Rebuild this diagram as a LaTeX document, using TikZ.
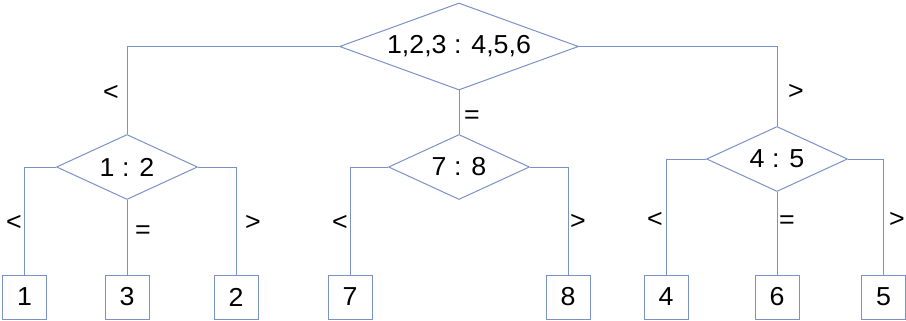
\documentclass[tikz,border=0pt]{standalone}
\usepackage{fontspec}
\setmainfont{Liberation Sans}[FakeStretch=1.03]
\usetikzlibrary{shapes.geometric}
\definecolor{edge}{RGB}{122,146,200}
\tikzset{
  every node/.style={font=\fontsize{26}{30}\selectfont, text=black},
  bigdia/.style={diamond, draw=edge, line width=1pt, inner sep=0pt, aspect=2.75, minimum width=239pt, minimum height=87pt},
  dia/.style={diamond, draw=edge, line width=1pt, inner sep=0pt, aspect=2.17, minimum width=141pt, minimum height=65pt},
  leaf/.style={rectangle, draw=edge, line width=1pt, inner sep=0pt, minimum width=44pt, minimum height=44pt},
  lbl/.style={inner sep=0pt},
  conn/.style={draw=edge, line width=1pt}
}
\begin{document}
\begin{tikzpicture}[x=1pt,y=-1pt]
\useasboundingbox (0,0) rectangle (906,321);
% decision nodes
\node[bigdia] (T) at (459,46.5) {1,2,3 : 4,5,6};
\node[dia] (L) at (127,167) {1 : 2};
\node[dia] (M) at (459,167) {7 : 8};
\node[dia] (R) at (777,159) {4 : 5};
% leaves
\node[leaf] (b1) at (24.5,297) {1};
\node[leaf] (b3) at (127,297) {3};
\node[leaf] (b2) at (236,297) {2};
\node[leaf] (b7) at (350,297) {7};
\node[leaf] (b8) at (568,297) {8};
\node[leaf] (b4) at (666,297) {4};
\node[leaf] (b6) at (777,297) {6};
\node[leaf] (b5) at (883.5,297) {5};
% connectors
\draw[conn] (T.west) -| (L.north);
\draw[conn] (T.south) -- (M.north);
\draw[conn] (T.east) -| (R.north);
\draw[conn] (L.west) -| (b1.north);
\draw[conn] (L.south) -- (b3.north);
\draw[conn] (L.east) -| (b2.north);
\draw[conn] (M.west) -| (b7.north);
\draw[conn] (M.east) -| (b8.north);
\draw[conn] (R.west) -| (b4.north);
\draw[conn] (R.south) -- (b6.north);
\draw[conn] (R.east) -| (b5.north);
% labels
\node[lbl] (lt1) at (111,93) {<};
\node[lbl] (lt2) at (472,117) {=};
\node[lbl] (lt3) at (796,92) {>};
\node[lbl] (ll1) at (14,223) {<};
\node[lbl] (ll2) at (143,232) {=};
\node[lbl] (ll3) at (253,223) {>};
\node[lbl] (lm1) at (340,223) {<};
\node[lbl] (lm3) at (578,222) {>};
\node[lbl] (lr1) at (655,220) {<};
\node[lbl] (lr2) at (787,222) {=};
\node[lbl] (lr3) at (897,220) {>};
\end{tikzpicture}
\end{document}
